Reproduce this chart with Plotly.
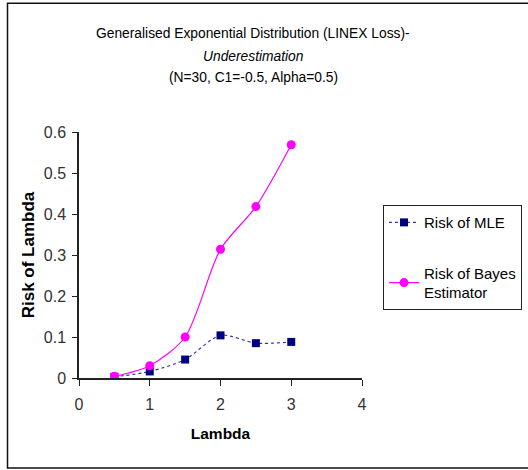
import plotly.graph_objects as go

lambdas = [0.5, 1.0, 1.5, 2.0, 2.5, 3.0]
risk_mle = [0.003, 0.016, 0.045, 0.104, 0.085, 0.088]
risk_bayes = [0.004, 0.030, 0.100, 0.314, 0.418, 0.569]
x_ticks = [0, 1, 2, 3, 4]
y_ticks = [0, 0.1, 0.2, 0.3, 0.4, 0.5, 0.6]
y_tick_text = ["0", "0.1", "0.2", "0.3", "0.4", "0.5", "0.6"]
title_lines = [
    "Generalised Exponential Distribution (LINEX Loss)-",
    "<i>Underestimation</i>",
    "(N=30, C1=-0.5, Alpha=0.5)",
]

W, H = 528, 470
L, R = 79, 362
T, B = 131.7, 378.3

def px(xp):
    return (xp - L) / (R - L)

def py(yp):
    return (B - yp) / (B - T)

FONT = "Liberation Sans, Arial, sans-serif"

fig = go.Figure()
fig.add_trace(go.Scatter(
    x=lambdas, y=risk_mle, name="Risk of MLE", mode="lines+markers",
    line=dict(color="#3333aa", width=1.2, dash="dot", shape="spline", smoothing=0.8),
    marker=dict(symbol="square", size=8, color="#000080"),
    legendgroup="a",
))
fig.add_trace(go.Scatter(
    x=lambdas, y=risk_bayes, name="Risk of Bayes<br>Estimator", mode="lines+markers",
    line=dict(color="#ff00ff", width=1.2, shape="spline", smoothing=0.8),
    marker=dict(symbol="circle", size=9, color="#ff00ff"),
    legendgroup="b",
))

fig.update_layout(
    width=W, height=H,
    margin=dict(l=L, r=W - R, t=T, b=H - B, autoexpand=False),
    paper_bgcolor="white", plot_bgcolor="white",
    font=dict(family=FONT, color="#111", size=15),
    showlegend=True,
    legend=dict(
        x=px(383), y=py(205), xanchor="left", yanchor="top",
        bordercolor="#222", borderwidth=1, bgcolor="white",
        font=dict(family=FONT, size=15, color="#000"),
        tracegroupgap=28, itemwidth=30,
    ),
    xaxis=dict(
        range=[0, 4], tickvals=x_ticks, ticktext=[str(v) for v in x_ticks],
        showgrid=False, zeroline=False, showline=True, linecolor="#222", linewidth=1.5,
        ticks="outside", ticklen=6, tickcolor="#222", ticklabelstandoff=5,
        tickfont=dict(size=16, color="#333"),
        title=dict(text="<b>Lambda</b>", font=dict(size=15.5, color="#000"), standoff=16),
    ),
    yaxis=dict(
        range=[0, 0.6], tickvals=y_ticks, ticktext=y_tick_text,
        showgrid=False, zeroline=False, showline=True, linecolor="#222", linewidth=1.5,
        ticks="outside", ticklen=5, tickcolor="#222", ticklabelstandoff=3,
        tickfont=dict(size=16, color="#333"),
        title=dict(text="<b>Risk of Lambda</b>", font=dict(size=17, color="#000"), standoff=5),
    ),
)

for txt, yc in zip(title_lines, [33, 56, 77]):
    fig.add_annotation(text=txt, xref="paper", yref="paper", x=px(253), y=py(yc),
                       xanchor="center", yanchor="middle", showarrow=False,
                       font=dict(family=FONT, size=13.8, color="#000"))

fig.add_shape(type="rect", xref="paper", yref="paper",
              x0=px(7.5), x1=px(540), y0=py(468.5), y1=py(2.7),
              line=dict(color="#111", width=1.5), fillcolor="rgba(0,0,0,0)", layer="below")

fig.write_html("out.html", config={"displayModeBar": False},
               post_script="document.body.style.margin='0';document.body.style.overflow='hidden';")
